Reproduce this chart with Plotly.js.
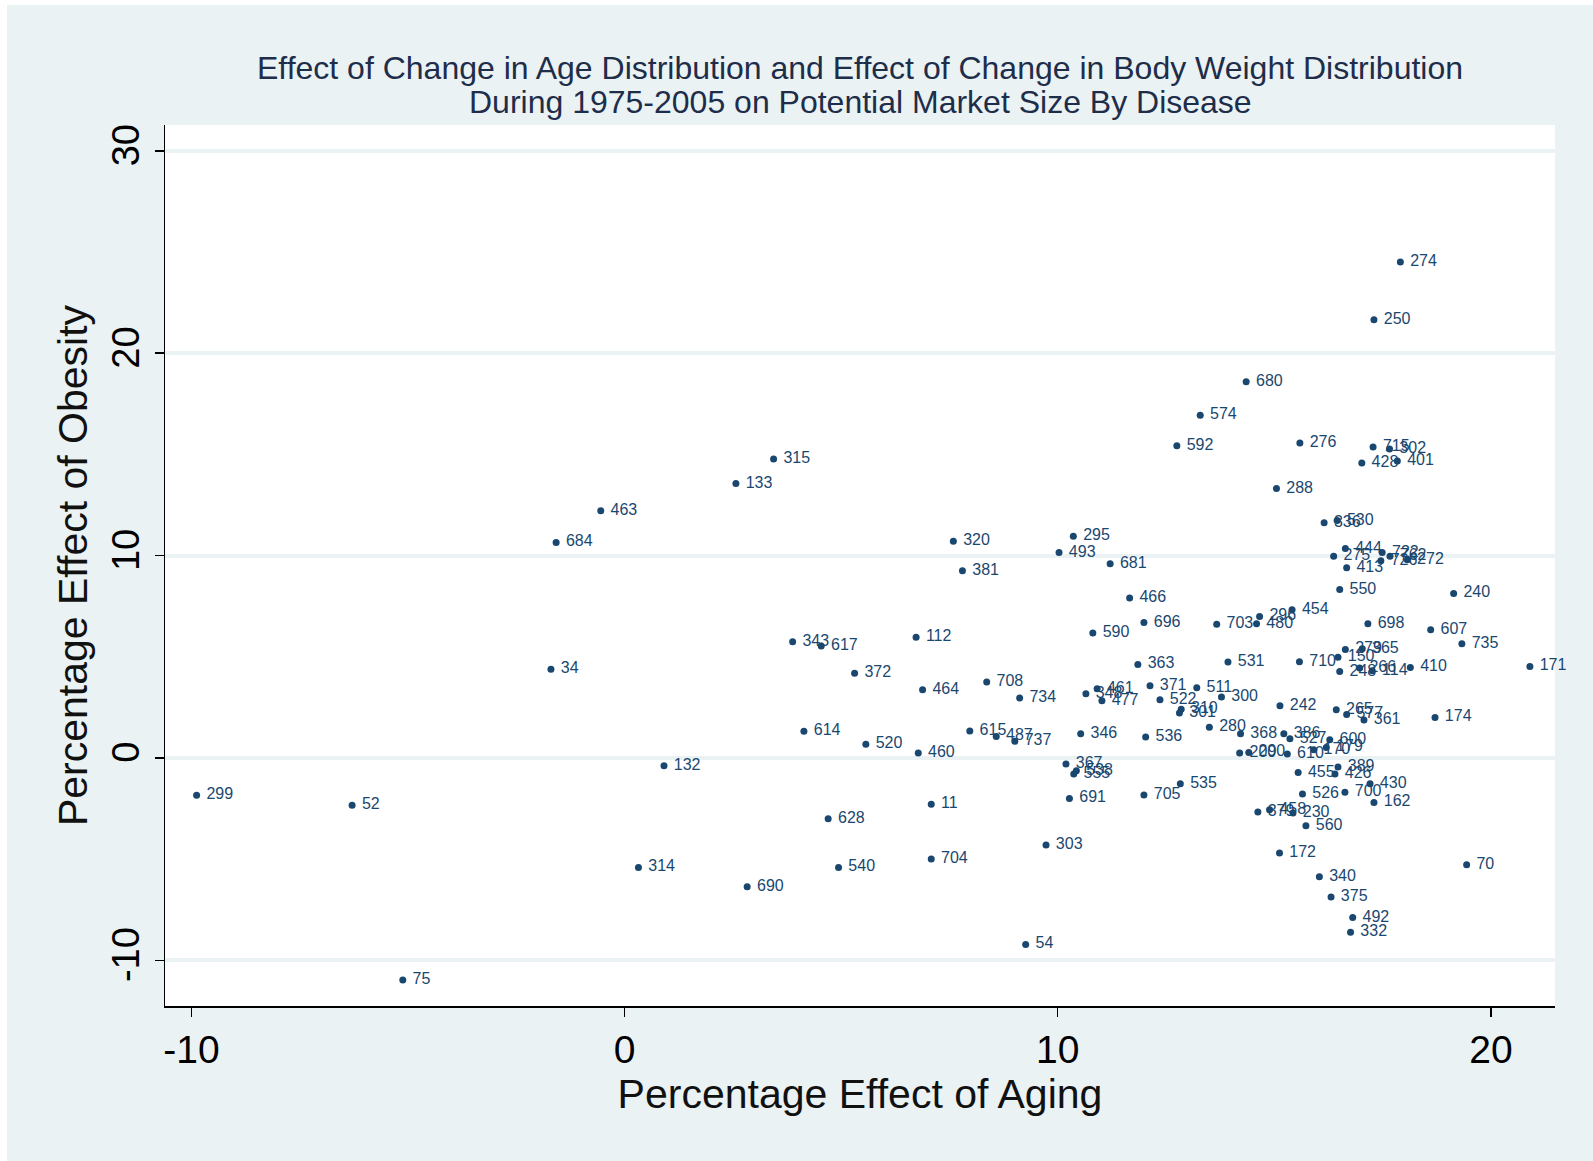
<!DOCTYPE html>
<html>
<head>
<meta charset="utf-8">
<script src="https://cdn.plot.ly/plotly-3.0.1.min.js"></script>
<style>
  html, body { margin: 0; padding: 0; background: #ffffff; width: 1593px; height: 1161px; overflow: hidden; }
  #chart { position: absolute; left: 7px; top: 5px; width: 1586px; height: 1156px; }
</style>
</head>
<body>
<div id="chart"></div>
<script>
// Disease codes (marker labels)
const diseaseCodes = ["274","250","680","574","592","276","715","302","428","401",
  "288","336","530","444","275","722","762","726","413","272",
  "550","240","454","296","480","698","607","735","279","365",
  "150","248","266","114","410","171","710","242","265","577",
  "361","174","363","531","348","461","477","371","511","300",
  "522","310","301","346","536","280","368","386","527","600",
  "200","290","610","170","179","455","389","426","430","526",
  "700","162","379","458","230","560","172","70","340","375",
  "492","332","367","538","555","691","705","535","464","708",
  "734","615","487","737","460","466","696","590","703","299",
  "52","75","34","684","463","133","315","132","314","690",
  "343","617","614","628","520","540","372","112","11","704",
  "320","381","303","54","295","493","681"];

// Percentage effect of aging (x)
const agingEffect = [17.91,17.30,14.35,13.29,12.75,15.59,17.28,17.66,17.02,17.84,
  15.05,16.15,16.45,16.64,16.37,17.49,17.67,17.46,16.67,18.07,
  16.51,19.14,15.41,14.66,14.59,17.16,18.61,19.33,16.64,17.03,
  16.47,16.51,16.97,17.26,18.14,20.90,15.58,15.13,16.43,16.67,
  17.07,18.71,11.85,13.93,10.65,10.91,11.02,12.13,13.21,13.78,
  12.36,12.85,12.81,10.53,12.03,13.50,14.22,15.22,15.36,16.28,
  14.20,14.41,15.30,15.91,16.20,15.55,16.47,16.40,17.21,15.65,
  16.63,17.30,14.62,14.89,15.43,15.73,15.12,19.44,16.04,16.31,
  16.81,16.76,10.19,10.43,10.37,10.27,11.99,12.83,6.88,8.36,
  9.12,7.97,8.58,9.01,6.78,11.66,11.99,10.81,13.67,-9.88,
  -6.29,-5.12,-1.70,-1.58,-0.55,2.57,3.44,0.91,0.32,2.83,
  3.88,4.54,4.14,4.70,5.57,4.94,5.31,6.73,7.08,7.08,
  7.59,7.80,9.73,9.26,10.36,10.03,11.21];

// Percentage effect of obesity (y)
const obesityEffect = [24.51,21.65,18.59,16.93,15.43,15.57,15.37,15.27,14.57,14.67,
  13.31,11.62,11.73,10.35,9.97,10.15,9.97,9.74,9.40,9.79,
  8.32,8.13,7.32,6.99,6.63,6.63,6.34,5.64,5.36,5.39,
  4.97,4.27,4.44,4.31,4.47,4.52,4.75,2.58,2.38,2.15,
  1.88,2.00,4.62,4.74,3.17,3.42,2.82,3.57,3.47,3.01,
  2.87,2.41,2.22,1.20,1.03,1.51,1.20,1.20,0.95,0.90,
  0.24,0.27,0.19,0.40,0.52,-0.72,-0.45,-0.80,-1.28,-1.78,
  -1.70,-2.20,-2.67,-2.56,-2.72,-3.35,-4.70,-5.28,-5.87,-6.87,
  -7.89,-8.62,-0.30,-0.63,-0.80,-2.00,-1.83,-1.28,3.37,3.75,
  2.96,1.33,1.06,0.82,0.24,7.90,6.69,6.17,6.61,-1.84,
  -2.34,-10.98,4.38,10.65,12.21,13.56,14.77,-0.39,-5.41,-6.37,
  5.74,5.53,1.32,-3.00,0.67,-5.41,4.19,5.96,-2.29,-4.99,
  10.71,9.25,-4.30,-9.22,10.95,10.15,9.60];

const xTicks = [-10, 0, 10, 20];
const yTicks = [-10, 0, 10, 20, 30];

const titleLine1 = 'Effect of Change in Age Distribution and Effect of Change in Body Weight Distribution';
const titleLine2 = 'During 1975-2005 on Potential Market Size By Disease';

const navy = '#1a476f';
const textCol = '#1e2d4a';
const font = 'Liberation Sans, Arial, sans-serif';

const trace = {
  type: 'scatter',
  mode: 'markers+text',
  x: agingEffect,
  y: obesityEffect,
  text: diseaseCodes.map(c => '\u00a0' + c),
  textposition: 'middle right',
  textfont: { family: font, size: 16, color: navy },
  marker: { color: navy, size: 7 },
  cliponaxis: false,
  hoverinfo: 'x+y+text'
};

const layout = {
  width: 1586,
  height: 1156,
  paper_bgcolor: '#eaf2f3',
  plot_bgcolor: '#ffffff',
  margin: { l: 158, r: 38, t: 120, b: 155 },
  showlegend: false,
  font: { family: font, color: textCol },
  title: {
    text: titleLine1,
    font: { family: font, size: 32, color: textCol },
    x: 0.5, xref: 'paper', xanchor: 'center',
    y: 1 - 63/1156, yref: 'container', yanchor: 'middle'
  },
  annotations: [{
    text: titleLine2,
    xref: 'paper', yref: 'paper', x: 0.5, y: 1 + 23.4/881,
    xanchor: 'center', yanchor: 'middle', showarrow: false,
    font: { family: font, size: 32, color: textCol }
  }],
  xaxis: {
    range: [-10.61, 21.48],
    tickvals: xTicks,
    ticktext: xTicks.map(String),
    ticks: 'outside', ticklen: 9, tickwidth: 1.5, tickcolor: '#000',
    showline: true, linecolor: '#000', linewidth: 1.5,
    showgrid: false, zeroline: false,
    tickfont: { family: font, size: 39, color: '#000' },
    title: { text: 'Percentage Effect of Aging', font: { family: font, size: 41, color: '#111' }, standoff: 8 }
  },
  yaxis: {
    range: [-12.26, 31.28],
    tickvals: yTicks,
    ticktext: yTicks.map(String),
    tickangle: -90,
    ticks: 'outside', ticklen: 9, tickwidth: 1.5, tickcolor: '#000',
    showline: true, linecolor: '#000', linewidth: 1.5,
    showgrid: true, gridcolor: '#eaf2f3', gridwidth: 4,
    zeroline: false,
    tickfont: { family: font, size: 38, color: '#000' },
    title: { text: 'Percentage Effect of Obesity', font: { family: font, size: 41, color: '#111' }, standoff: 5 }
  }
};

Plotly.newPlot('chart', [trace], layout, { displayModeBar: false, staticPlot: true });
</script>
</body>
</html>
